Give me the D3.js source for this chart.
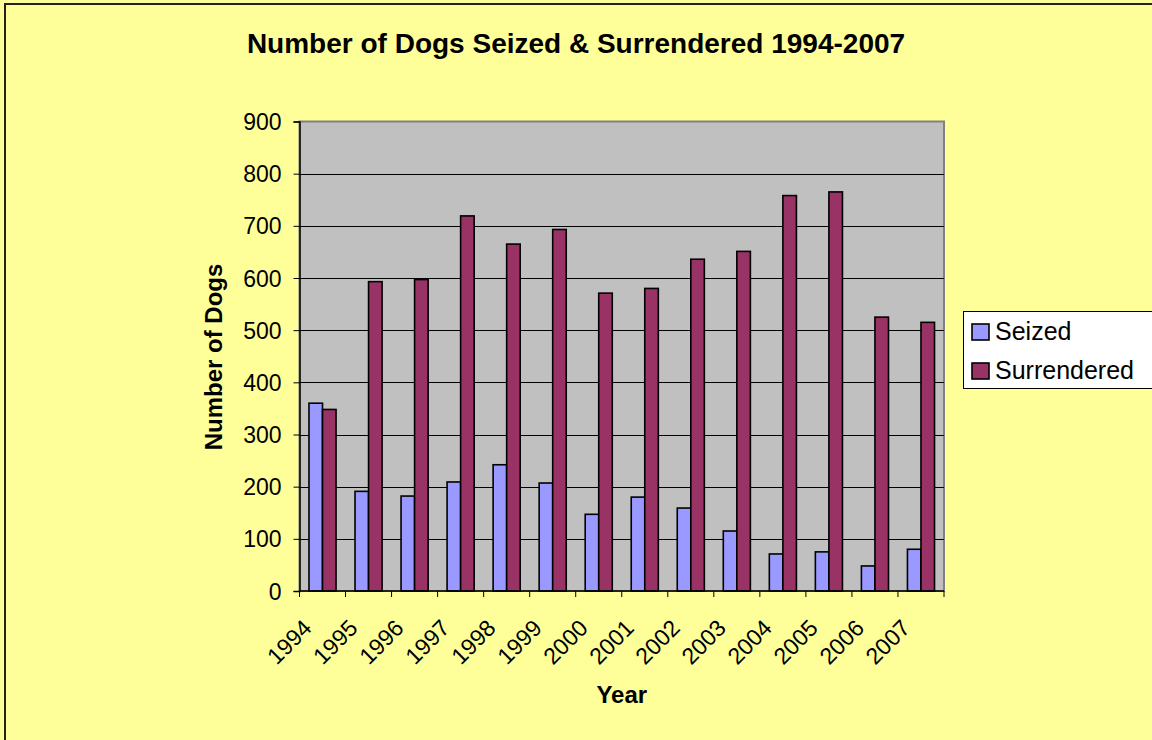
<!DOCTYPE html>
<html>
<head>
<meta charset="utf-8">
<script src="https://cdn.jsdelivr.net/npm/d3@7"></script>
<style>
    body { margin: 0; background: #ffff99; }
    text { font-family: "Liberation Sans", Arial, sans-serif; fill: #000; }
</style>
</head>
<body>
<div id="chart"></div>
<script>
var years = ["1994", "1995", "1996", "1997", "1998", "1999", "2000",
             "2001", "2002", "2003", "2004", "2005", "2006", "2007"];
var seized = [360, 191, 182, 209, 242, 207, 147, 180, 159, 115, 71, 75, 48, 80];
var surrendered = [348, 593, 597, 719, 665, 693, 571, 580, 636, 651, 758, 765, 525, 515];
var seriesNames = ["Seized", "Surrendered"];
var seriesColors = ["#9999ff", "#993366"];
var yTicks = [0, 100, 200, 300, 400, 500, 600, 700, 800, 900];

var width = 1152, height = 740;
var plot = { left: 299.5, right: 944, top: 121.5, bottom: 591 };

var svg = d3.select("#chart").append("svg")
    .attr("width", width)
    .attr("height", height);

// chart area background + border (cut off at right/bottom like the original)
svg.append("rect")
    .attr("x", 5).attr("y", 4)
    .attr("width", width + 10).attr("height", height + 10)
    .attr("fill", "#ffff99")
    .attr("stroke", "#222").attr("stroke-width", 2);

svg.append("text")
    .attr("x", 576).attr("y", 53)
    .attr("text-anchor", "middle")
    .style("font-size", "28px").style("font-weight", "bold")
    .text("Number of Dogs Seized & Surrendered 1994-2007");

var x = d3.scaleBand().domain(years)
    .range([plot.left, plot.right])
    .paddingInner(0).paddingOuter(0);

var y = d3.scaleLinear().domain([0, 900])
    .range([plot.bottom, plot.top]);

// plot area
svg.append("rect")
    .attr("x", plot.left).attr("y", plot.top)
    .attr("width", plot.right - plot.left).attr("height", plot.bottom - plot.top)
    .attr("fill", "#c0c0c0")
    .attr("stroke", "#808080").attr("stroke-width", 2);

// gridlines
svg.append("g").selectAll("line").data(yTicks.filter(function (d) { return d > 0 && d < 900; }))
    .enter().append("line")
    .attr("x1", plot.left).attr("x2", plot.right)
    .attr("y1", function (d) { return Math.round(y(d)) + 0.5; })
    .attr("y2", function (d) { return Math.round(y(d)) + 0.5; })
    .attr("stroke", "#000").attr("stroke-width", 1);

// bars
var bw = x.bandwidth();
var barW = bw / 3.4;
var gap = (bw - 2 * barW) / 2;
var data = [];
years.forEach(function (yr, i) {
    data.push({ year: yr, s: 0, v: seized[i] });
    data.push({ year: yr, s: 1, v: surrendered[i] });
});

svg.append("g").selectAll("rect").data(data)
    .enter().append("rect")
    .attr("x", function (d) { return x(d.year) + gap + d.s * barW; })
    .attr("y", function (d) { return y(d.v); })
    .attr("width", barW)
    .attr("height", function (d) { return y(0) - y(d.v); })
    .attr("fill", function (d) { return seriesColors[d.s]; })
    .attr("stroke", "#000").attr("stroke-width", 1.6);

// y axis
var yAxis = svg.append("g")
    .attr("transform", "translate(" + plot.left + ",0)")
    .call(d3.axisLeft(y).tickValues(yTicks).tickSize(6).tickPadding(12));
yAxis.select(".domain").attr("stroke", "#000").attr("stroke-width", 1.5);
yAxis.selectAll(".tick line").attr("stroke", "#000");
yAxis.selectAll(".tick text")
    .attr("dy", "0.35em")
    .style("font-size", "23px")
    .style("font-family", "Liberation Sans, Arial, sans-serif");

// x axis
var xAxis = svg.append("g")
    .attr("transform", "translate(0," + plot.bottom + ")");
xAxis.append("line")
    .attr("x1", plot.left).attr("x2", plot.right)
    .attr("stroke", "#000").attr("stroke-width", 1.5);
xAxis.selectAll("line.tk").data(years.concat(["end"]))
    .enter().append("line").attr("class", "tk")
    .attr("x1", function (d, i) { return plot.left + i * bw; })
    .attr("x2", function (d, i) { return plot.left + i * bw; })
    .attr("y1", 0).attr("y2", 6)
    .attr("stroke", "#000");
xAxis.selectAll("text").data(years)
    .enter().append("text")
    .attr("text-anchor", "end")
    .attr("transform", function (d) {
        return "translate(" + (x(d) + bw / 2 - 9.5) + ",38.5) rotate(-45)";
    })
    .style("font-size", "23px")
    .text(function (d) { return d; });

// axis titles
svg.append("text")
    .attr("transform", "translate(222,357) rotate(-90)")
    .attr("text-anchor", "middle")
    .style("font-size", "24px").style("font-weight", "bold")
    .text("Number of Dogs");

svg.append("text")
    .attr("x", (plot.left + plot.right) / 2).attr("y", 703)
    .attr("text-anchor", "middle")
    .style("font-size", "24px").style("font-weight", "bold")
    .text("Year");

// legend
var legend = svg.append("g");
legend.append("rect")
    .attr("x", 963.5).attr("y", 311.5)
    .attr("width", 200).attr("height", 77)
    .attr("fill", "#fff").attr("stroke", "#000").attr("stroke-width", 1);
var item = legend.selectAll("g.item").data(seriesNames)
    .enter().append("g").attr("class", "item")
    .attr("transform", function (d, i) { return "translate(972," + (340 + i * 39) + ")"; });
item.append("rect")
    .attr("x", 0).attr("y", -16)
    .attr("width", 17).attr("height", 16)
    .attr("fill", function (d, i) { return seriesColors[i]; })
    .attr("stroke", "#000").attr("stroke-width", 1.6);
item.append("text")
    .attr("x", 23).attr("y", 0)
    .style("font-size", "25px")
    .text(function (d) { return d; });
</script>
</body>
</html>
